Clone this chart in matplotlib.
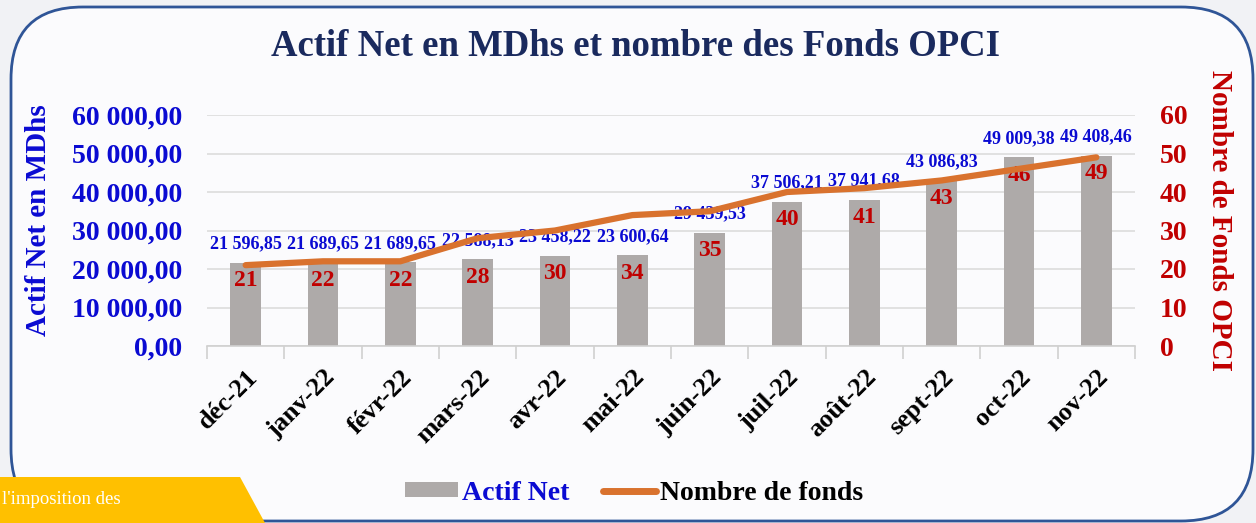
import matplotlib.pyplot as plt
import numpy as np
from matplotlib.patches import FancyBboxPatch, Polygon, Patch
from matplotlib.lines import Line2D
from matplotlib.ticker import FuncFormatter

# Données
mois = ['déc-21', 'janv-22', 'févr-22', 'mars-22', 'avr-22', 'mai-22',
        'juin-22', 'juil-22', 'août-22', 'sept-22', 'oct-22', 'nov-22']
actif_net = [21596.85, 21689.65, 21689.65, 22588.13, 23458.22, 23600.64,
             29439.53, 37506.21, 37941.68, 43086.83, 49009.38, 49408.46]
nb_fonds = [21, 22, 22, 28, 30, 34, 35, 40, 41, 43, 46, 49]

BLEU = '#0a0ad2'
ROUGE = '#c00000'
ORANGE = '#d9722e'
GRIS = '#aeaaa9'
SERIF = 'Liberation Serif'


def fr(v, dec=2):
    s = f"{v:,.{dec}f}"
    return s.replace(',', ' ').replace('.', ',')


fig = plt.figure(figsize=(12.56, 5.23), dpi=100)
fig.patch.set_facecolor('#f1f2f5')

# Fond et cadre arrondi (en pixels)
bg = fig.add_axes([0, 0, 1, 1], zorder=-1)
bg.set_xlim(0, 1256)
bg.set_ylim(523, 0)
bg.axis('off')
bg.add_patch(FancyBboxPatch((11, 7), 1242, 514,
                            boxstyle='round,pad=0,rounding_size=72',
                            facecolor='#fbfbfd', edgecolor='#2f5597', linewidth=2))
bg.add_patch(Polygon([(0, 477), (240, 477), (265, 523), (0, 523)],
                     closed=True, facecolor='#ffc000', edgecolor='none'))
bg.text(2, 499, "l'imposition des", color='white', fontsize=13.5,
        family=SERIF, va='center')

# Axe principal
ax = fig.add_axes([207 / 1256, 1 - 346 / 523, (1135 - 207) / 1256, (346 - 115) / 523])
ax.set_facecolor('none')
x = np.arange(len(mois))
ax.bar(x, actif_net, width=0.4, color=GRIS, zorder=2)
ax.set_xlim(-0.5, len(mois) - 0.5)
ax.set_ylim(0, 60000)
ax.set_yticks(np.arange(0, 60001, 10000))
ax.yaxis.set_major_formatter(FuncFormatter(lambda v, p: fr(v)))
ax.grid(axis='y', color='#dcdcdc', linewidth=1.2, zorder=0)
for s in ['top', 'right', 'left']:
    ax.spines[s].set_visible(False)
ax.spines['bottom'].set_color('#d0d0d0')
ax.spines['bottom'].set_linewidth(1.2)
ax.tick_params(axis='y', length=0, pad=18, labelsize=20, labelcolor=BLEU)
ax.set_xticks(x)
ax.set_xticklabels(mois, rotation=45, ha='right', rotation_mode='anchor',
                   fontsize=19, fontweight='bold', family=SERIF)
ax.tick_params(axis='x', length=0, pad=14)
ax.set_xticks(np.arange(-0.5, len(mois), 1), minor=True)
ax.tick_params(axis='x', which='minor', length=9, color='#d0d0d0', width=1.2)
for t in ax.get_yticklabels():
    t.set_fontweight('bold')
    t.set_family(SERIF)
ax.set_ylabel('Actif Net en MDhs', fontsize=21, fontweight='bold', color=BLEU,
              family=SERIF)
ax.yaxis.set_label_coords(-0.167, 0.545)

for i, v in enumerate(actif_net):
    ax.annotate(fr(v), (i, v), xytext=(0, 13.5), textcoords='offset points',
                ha='center', va='center', fontsize=13, fontweight='bold',
                color=BLEU, family=SERIF, zorder=3)

# Axe secondaire
ax2 = ax.twinx()
ax2.plot(x, nb_fonds, color=ORANGE, linewidth=4.5, solid_capstyle='round', zorder=3)
ax2.set_ylim(0, 60)
ax2.set_yticks(np.arange(0, 61, 10))
for s in ax2.spines.values():
    s.set_visible(False)
ax2.tick_params(axis='y', length=0, pad=18, labelsize=20, labelcolor=ROUGE)
for t in ax2.get_yticklabels():
    t.set_fontweight('bold')
    t.set_family(SERIF)
ax2.set_ylabel('Nombre de Fonds OPCI', fontsize=21, fontweight='bold', color=ROUGE,
               family=SERIF, rotation=-90, va='center')
ax2.yaxis.set_label_coords(1.091, 0.545)

for i, (v, n) in enumerate(zip(actif_net, nb_fonds)):
    ax.annotate(str(n), (i, v), xytext=(0, -13), textcoords='offset points',
                ha='center', va='center', fontsize=17, fontweight='bold',
                color=ROUGE, family=SERIF, zorder=4)

# Titre
fig.text(0.506, 1 - 46 / 523, 'Actif Net en MDhs et nombre des Fonds OPCI',
         ha='center', va='center', fontsize=26.5, fontweight='bold',
         color='#1a2a5e', family=SERIF)

# Légende
handles = [Patch(facecolor=GRIS, edgecolor='none'),
           Line2D([0], [0], color=ORANGE, linewidth=5, solid_capstyle='round')]
leg = fig.legend(handles, ['Actif Net', 'Nombre de fonds'], loc='center',
                 bbox_to_anchor=(0.505, 1 - 493 / 523), ncol=2, frameon=False,
                 prop={'family': SERIF, 'weight': 'bold', 'size': 20},
                 handlelength=1.9, handleheight=0.45, handletextpad=0.15,
                 columnspacing=1.2)
leg.get_texts()[0].set_color(BLEU)
leg.get_texts()[1].set_color('black')

plt.savefig('out.png', dpi=100, facecolor=fig.get_facecolor())
